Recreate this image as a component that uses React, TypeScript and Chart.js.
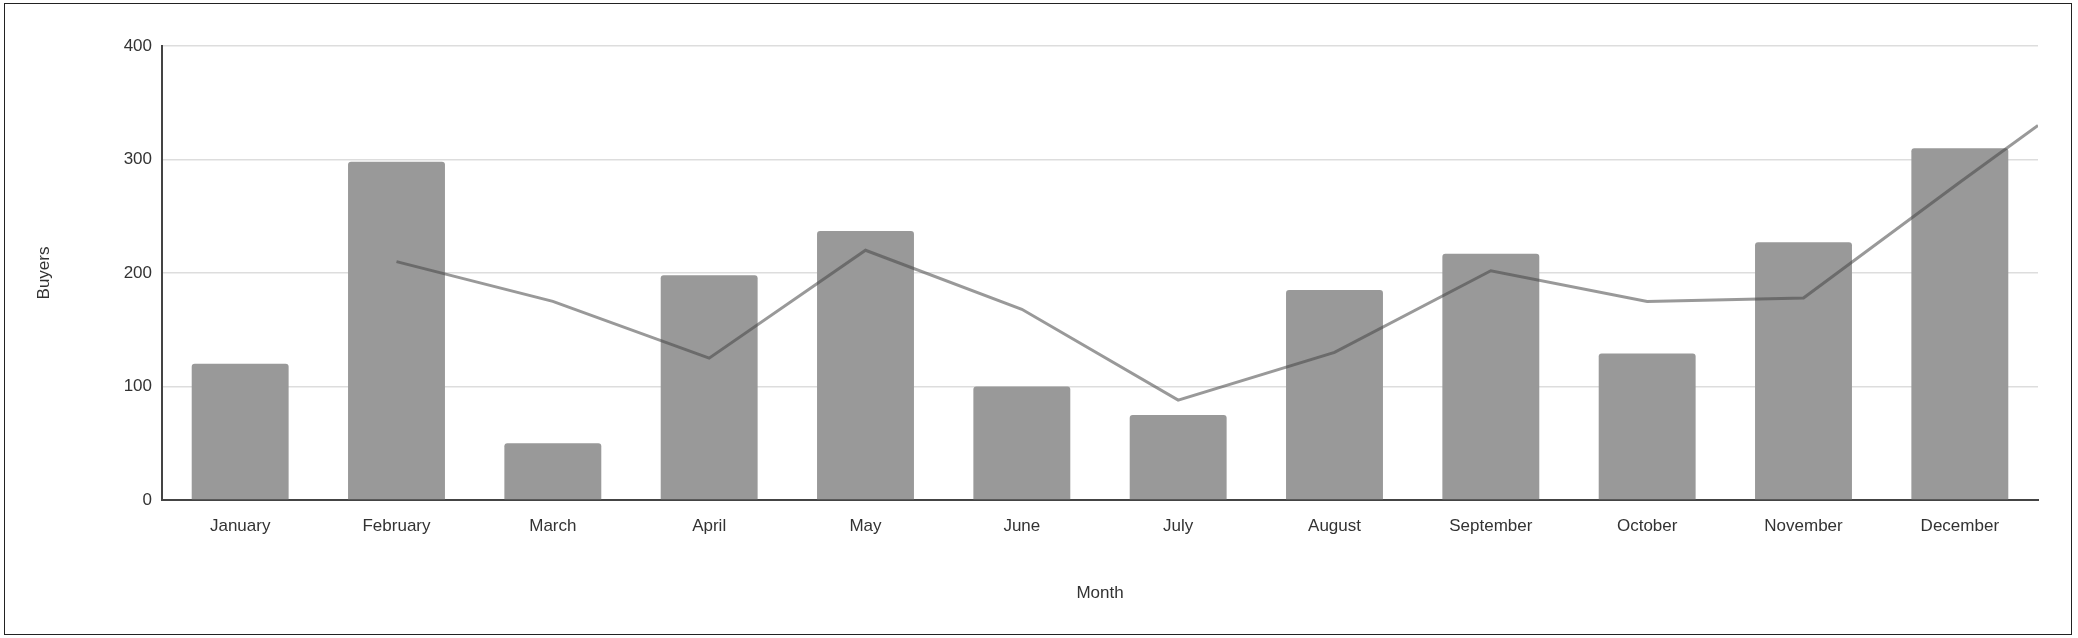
import { useEffect, useRef } from 'react';
import { Chart, registerables } from 'chart.js';

Chart.register(...registerables);

const months = ['January', 'February', 'March', 'April', 'May', 'June', 'July', 'August', 'September', 'October', 'November', 'December'];
const buyers = [120, 298, 50, 198, 237, 100, 75, 185, 217, 129, 227, 310];
// trend line: month index (0 = January) and value; runs out to the right edge
const trendX = [1, 2, 3, 4, 5, 6, 7, 8, 9, 10, 11, 11.5];
const trendY = [210, 175, 125, 220, 168, 88, 130, 202, 175, 178, 280, 330];
const yTicks = [0, 100, 200, 300, 400];

export default function App() {
  const chartRef = useRef<HTMLCanvasElement>(null);
  const chartInstance = useRef<Chart | null>(null);

  useEffect(() => {
    document.body.style.margin = '0';
    if (!chartRef.current) return;
    const ctx = chartRef.current.getContext('2d');
    if (!ctx) return;

    const font = { family: '"Liberation Sans", Arial, sans-serif', size: 17 };

    chartInstance.current = new Chart(ctx, {
      type: 'bar',
      data: {
        labels: months,
        datasets: [
          {
            type: 'line',
            label: 'Trend',
            data: trendX.map((x, i) => ({ x, y: trendY[i] })),
            xAxisID: 'x2',
            borderColor: 'rgba(70, 70, 70, 0.55)',
            borderWidth: 3,
            pointRadius: 0,
            tension: 0,
            order: 0
          } as any,
          {
            label: 'Buyers',
            data: buyers,
            backgroundColor: '#999999',
            borderRadius: 3,
            borderSkipped: 'bottom',
            grouped: false,
            categoryPercentage: 1,
            barPercentage: 0.62,
            order: 1
          }
        ]
      },
      options: {
        animation: false,
        responsive: true,
        maintainAspectRatio: false,
        layout: { padding: { left: 30, right: 40, top: 46, bottom: 30 } },
        plugins: { legend: { display: false }, tooltip: { enabled: false } },
        scales: {
          x: {
            offset: true,
            grid: { display: false },
            border: { color: '#444', width: 2 },
            ticks: { color: '#333', font, padding: 8 },
            title: { display: true, text: 'Month', color: '#333', font, padding: { top: 30 } },
            afterFit: (s: any) => { s.height = 108; }
          },
          x2: {
            type: 'linear',
            display: false,
            offset: false,
            min: -0.5,
            max: 11.5
          },
          y: {
            min: 0,
            max: 400,
            afterBuildTicks: (s: any) => { s.ticks = yTicks.map(v => ({ value: v })); },
            grid: { color: '#dddddd', lineWidth: 1.5, drawTicks: false },
            border: { color: '#444', width: 2 },
            ticks: { color: '#333', font, padding: 10 },
            title: { display: true, text: 'Buyers', color: '#333', font },
            afterFit: (s: any) => { s.width = 132; }
          }
        }
      }
    });

    return () => {
      if (chartInstance.current) chartInstance.current.destroy();
    };
  }, []);

  return (
    <div style={{ position: 'relative', width: 2078, height: 638, background: '#fff' }}>
      <div style={{ position: 'absolute', left: 4, top: 3, width: 2066, height: 630, border: '1.5px solid #222' }} />
      <canvas ref={chartRef} style={{ position: 'absolute', inset: 0, width: '100%', height: '100%' }}></canvas>
    </div>
  );
}
